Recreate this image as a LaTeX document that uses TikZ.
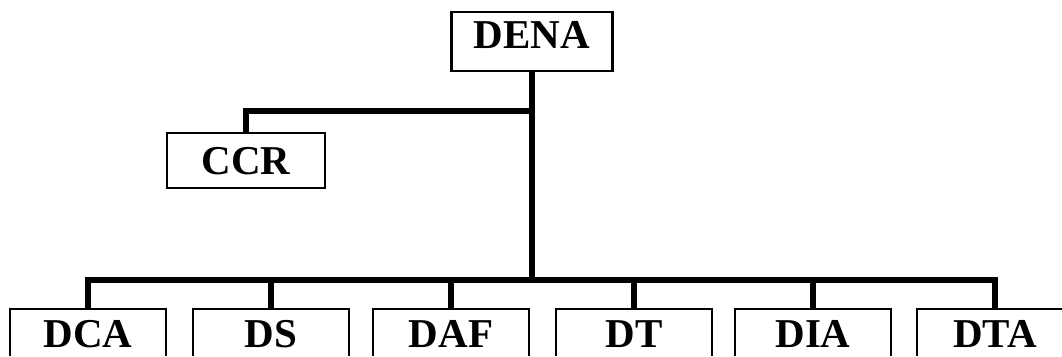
\documentclass[tikz,border=0pt]{standalone}
\usepackage{fontspec}
\setmainfont{Liberation Serif}
\begin{document}
\begin{tikzpicture}[x=1pt,y=-1pt,
  label text/.style={inner sep=0pt, anchor=base,
    font=\fontsize{41}{41}\selectfont\bfseries},
  unit/.style={label text, draw, line width=2.5pt, fill=white},
  rowunit/.style={label text, minimum width=156pt, text height=38pt, text depth=9pt},
  frame/.style={line width=2.5pt, line join=miter},
  link/.style={line width=5.5pt, line join=miter}]
\useasboundingbox (0,0) rectangle (1062,356);
\clip (0,0) rectangle (1062,356);

% head office and staff unit
\node[unit, minimum width=161pt, text height=36pt, text depth=23pt] (dena) at (532,48) {DENA};
\node[unit, minimum width=158pt, text height=41pt, text depth=14pt] (ccr) at (246,174) {CCR};

% directorates along the bottom row, open at the lower edge
\node[rowunit] (dca) at (88,347)  {DCA};
\node[rowunit] (ds)  at (271,347) {DS};
\node[rowunit] (daf) at (451,347) {DAF};
\node[rowunit] (dt)  at (634,347) {DT};
\node[rowunit] (dia) at (813,347) {DIA};
\node[rowunit] (dta) at (995,347) {DTA};
\foreach \d in {dca,ds,daf,dt,dia,dta}
  \draw[frame] (\d.south west) -- (\d.north west) -- (\d.north east) -- (\d.south east);

% junctions on the trunk
\coordinate (j1) at (dena.south |- 0,111);
\coordinate (bus) at (dena.south |- 0,280);

% connectors
\draw[link] (dena.south) -- (bus);
\draw[link] (j1) -| (ccr.north);
\draw[link] (dca.north) |- (bus) -| (dta.north);
\foreach \d in {ds,daf,dt,dia}
  \draw[link] (bus) -| (\d.north);
\end{tikzpicture}
\end{document}
